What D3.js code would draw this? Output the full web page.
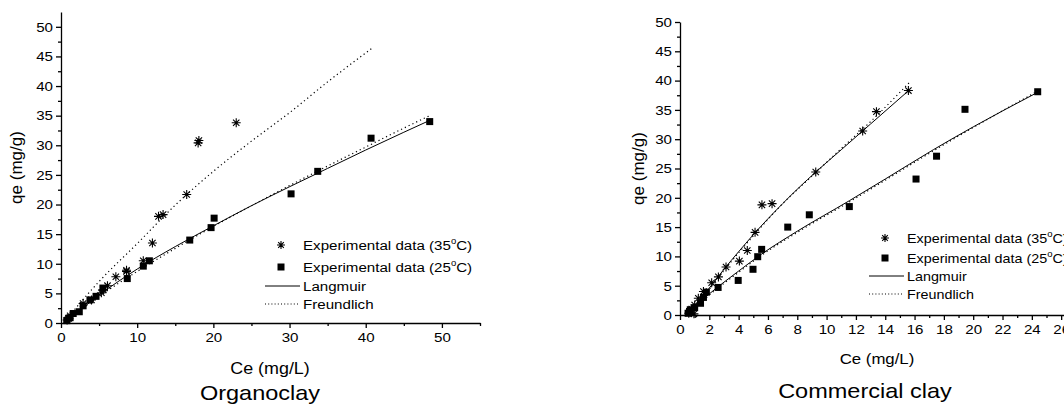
<!DOCTYPE html>
<html>
<head>
<meta charset="utf-8">
<script src="https://cdn.jsdelivr.net/npm/d3@7"></script>
<style>
  body { margin: 0; background: #fff; }
  svg { font-family: "Liberation Sans", Arial, sans-serif; }
  .axis path, .axis line { stroke: #000; stroke-width: 1.3; }
  .axis text { font-size: 13.5px; fill: #000; }
</style>
</head>
<body>
<svg width="1064" height="410"></svg>
<script>
// ---- Organoclay ----
const orgCe35 = [0.8, 1.2, 2.9, 4.0, 5.3, 5.55, 6.1, 7.2, 8.6, 8.6, 10.8, 12.0, 12.8, 13.4, 16.5, 18.0, 18.1, 23.0];
const orgQe35 = [0.5, 1.2, 3.3, 3.9, 5.1, 5.6, 6.3, 7.8, 8.7, 8.9, 10.5, 13.5, 18.0, 18.3, 21.7, 30.4, 30.8, 33.8];
const orgCe25 = [0.75, 1.0, 1.2, 1.6, 2.4, 2.9, 3.8, 4.6, 5.5, 8.7, 10.8, 11.6, 16.9, 19.7, 20.1, 30.2, 33.7, 40.7, 48.4];
const orgQe25 = [0.4, 0.8, 0.9, 1.6, 1.9, 2.9, 3.9, 4.5, 5.9, 7.5, 9.6, 10.5, 14.0, 16.1, 17.7, 21.8, 25.6, 31.2, 34.0];
const orgLangCe25 = [0.7, 5, 10, 15, 20, 25, 30, 35, 40, 45, 48.4];
const orgLangQe25 = [0.2, 4.7, 9.1, 12.9, 16.4, 19.8, 23.0, 26.1, 29.2, 32.2, 34.2];
const orgFreuCe25 = [0.7, 5, 10, 15, 20, 25, 30, 35, 40, 45, 48.4];
const orgFreuQe25 = [0.3, 4.5, 8.7, 12.6, 16.3, 19.8, 23.2, 26.5, 29.7, 32.9, 35.0];
const orgFreuCe35 = [0.75, 2, 5, 10, 15, 20, 25, 30, 35, 40.85];
const orgFreuQe35 = [0.6, 2.6, 7.0, 13.4, 19.9, 25.6, 30.7, 35.5, 40.7, 46.4];

// ---- Commercial clay ----
const comCe35 = [0.6, 0.8, 0.95, 1.0, 1.25, 1.6, 2.16, 2.62, 3.14, 4.05, 4.59, 5.12, 5.59, 6.28, 9.26, 12.46, 13.4, 15.58];
const comQe35 = [0.3, 1.0, 0.2, 1.7, 2.85, 4.0, 5.5, 6.5, 8.2, 9.2, 11.0, 14.1, 18.8, 19.0, 24.4, 31.4, 34.7, 38.3];
const comCe25 = [0.55, 0.65, 0.7, 1.0, 1.4, 1.6, 1.8, 2.6, 3.97, 4.98, 5.3, 5.57, 7.35, 8.82, 11.55, 16.1, 17.5, 19.44, 24.4];
const comQe25 = [0.3, 0.6, 0.9, 1.25, 2.0, 3.0, 3.9, 4.7, 5.9, 7.8, 9.95, 11.2, 15.0, 17.1, 18.5, 23.2, 27.1, 35.1, 38.1];
const comLangCe35 = [0.55, 1, 2, 3, 4, 5, 7, 9.26, 11, 13, 15.6];
const comLangQe35 = [0, 1.5, 4.6, 7.8, 10.8, 13.7, 19.0, 24.4, 28.2, 32.6, 38.3];
const comFreuCe35 = [0.6, 1, 2, 3, 5, 7, 9.26, 11, 13, 15.7];
const comFreuQe35 = [0, 1.2, 4.4, 7.6, 13.5, 19.0, 24.3, 28.4, 33.0, 39.8];
const comLangCe25 = [0.55, 1, 2, 3, 4, 5.57, 8, 11.55, 14, 17.28, 20, 24.4];
const comLangQe25 = [0.1, 1.3, 3.6, 5.6, 7.5, 10.4, 14.3, 19.5, 23.2, 28.2, 32.1, 38.0];
const comFreuCe25 = [0.55, 1, 2, 3, 4, 5.57, 8, 11.55, 14, 17.28, 20, 24.4];
const comFreuQe25 = [0, 1.1, 3.4, 5.4, 7.3, 10.2, 14.1, 19.3, 23.0, 28.0, 32.0, 38.2];

const legendLabels = ["Experimental data (35", "Experimental data (25", "Langmuir", "Freundlich"];

const svg = d3.select("svg");
const zip = (a, b) => a.map((v, i) => [v, b[i]]);
const K = 1.12; // the source picture is a bit wider than tall

// widen text horizontally around its anchor x
function stretch(sel) {
  sel.each(function() {
    const t = d3.select(this);
    const x = +t.attr("x") || 0;
    t.attr("transform", `translate(${x * (1 - K)},0) scale(${K},1)`);
  });
}

function starPath(r) {
  const d = r * Math.SQRT1_2;
  return `M0,${-r}V${r}M${-r},0H${r}M${-d},${-d}L${d},${d}M${-d},${d}L${d},${-d}`;
}

function drawPanel(p) {
  const g = svg.append("g");
  const x = d3.scaleLinear().domain(p.xDomain).range(p.xRange);
  const y = d3.scaleLinear().domain(p.yDomain).range(p.yRange);

  // minor ticks
  g.append("g").attr("class", "axis")
    .attr("transform", `translate(0,${p.yRange[0]})`)
    .call(d3.axisBottom(x).tickValues(p.xMinor).tickSize(3).tickFormat(""))
    .select(".domain").remove();
  g.append("g").attr("class", "axis")
    .attr("transform", `translate(${p.xRange[0]},0)`)
    .call(d3.axisLeft(y).tickValues(d3.range(2.5, p.yDomain[1], 5)).tickSize(3).tickFormat(""))
    .select(".domain").remove();

  const xa = g.append("g").attr("class", "axis")
    .attr("transform", `translate(0,${p.yRange[0]})`)
    .call(d3.axisBottom(x).tickValues(p.xMajor).tickSize(5).tickSizeOuter(0).tickPadding(4).tickFormat(d3.format("d")));
  const ya = g.append("g").attr("class", "axis")
    .attr("transform", `translate(${p.xRange[0]},0)`)
    .call(d3.axisLeft(y).tickValues(d3.range(0, 51, 5)).tickSize(5).tickSizeOuter(0).tickPadding(3).tickFormat(d3.format("d")));
  stretch(xa.selectAll("text"));
  stretch(ya.selectAll("text"));

  const line = d3.line().x(d => x(d[0])).y(d => y(d[1])).curve(d3.curveMonotoneX);
  p.lines.forEach(l => {
    g.append("path").datum(l.pts).attr("d", line)
      .attr("fill", "none").attr("stroke", "#000")
      .attr("stroke-width", l.dot ? 1.2 : 1)
      .attr("stroke-dasharray", l.dot ? "1.2,3" : null);
  });

  g.selectAll(".sq").data(p.squares).join("rect")
    .attr("x", d => x(d[0]) - 3.5).attr("y", d => y(d[1]) - 3.5)
    .attr("width", 7).attr("height", 7).attr("fill", "#000");
  g.selectAll(".st").data(p.stars).join("path")
    .attr("transform", d => `translate(${x(d[0])},${y(d[1])})`)
    .attr("d", starPath(4.5)).attr("stroke", "#000").attr("stroke-width", 1.1).attr("fill", "none");

  // axis titles
  g.append("text").attr("transform", `translate(${p.yLabelX},${(p.yRange[0] + p.yRange[1]) / 2}) rotate(-90)`)
    .attr("text-anchor", "middle").attr("font-size", 17).text("qe (mg/g)");
  g.append("text").attr("x", p.xLabel[0]).attr("y", p.xLabel[1])
    .attr("text-anchor", "middle").attr("font-size", p.labelSize).text("Ce (mg/L)")
    .call(stretch);
  g.append("text").attr("x", p.title[0]).attr("y", p.title[1])
    .attr("text-anchor", "middle").attr("font-size", 21).text(p.titleText)
    .call(stretch);

  // legend
  const [lx, ly, gap] = p.legend;
  const lg = g.append("g").attr("font-size", p.legendSize);
  lg.append("path").attr("transform", `translate(${lx - 22},${ly})`).attr("d", starPath(4))
    .attr("stroke", "#000").attr("stroke-width", 1.1);
  lg.append("rect").attr("x", lx - 25.5).attr("y", ly + gap[0] - 3.5).attr("width", 7).attr("height", 7);
  lg.append("line").attr("x1", lx - 38).attr("x2", lx - 3).attr("y1", ly + gap[1]).attr("y2", ly + gap[1]).attr("stroke", "#000");
  lg.append("line").attr("x1", lx - 38).attr("x2", lx - 3).attr("y1", ly + gap[2]).attr("y2", ly + gap[2])
    .attr("stroke", "#000").attr("stroke-width", 1.1).attr("stroke-dasharray", "1,2.2");
  [0, gap[0], gap[1], gap[2]].forEach((dy, i) => {
    const t = lg.append("text").attr("x", lx).attr("y", ly + dy + 5).text(legendLabels[i]);
    if (i < 2) {
      t.append("tspan").attr("font-size", 8.5).attr("dy", -6).text("o");
      t.append("tspan").attr("dy", 6).text("C)");
    }
    stretch(t);
  });
}

drawPanel({
  xDomain: [0, 55], xRange: [61, 480],
  yDomain: [0, 52.5], yRange: [323, 12],
  xMajor: d3.range(0, 51, 10), xMinor: d3.range(5, 56, 10),
  yLabelX: 22, xLabel: [270, 374], title: [260, 400], titleText: "Organoclay",
  labelSize: 16, legendSize: 13.5,
  legend: [303, 245, [22, 41, 59]],
  squares: zip(orgCe25, orgQe25), stars: zip(orgCe35, orgQe35),
  lines: [
    { pts: zip(orgLangCe25, orgLangQe25), dot: false },
    { pts: zip(orgFreuCe25, orgFreuQe25), dot: true },
    { pts: zip(orgFreuCe35, orgFreuQe35), dot: true }
  ]
});

drawPanel({
  xDomain: [0, 26.5], xRange: [680, 680 + 26.5 * 14.66],
  yDomain: [0, 50], yRange: [315, 22],
  xMajor: d3.range(0, 27, 2), xMinor: d3.range(1, 27, 2),
  yLabelX: 644, xLabel: [877, 364], title: [865, 398], titleText: "Commercial clay",
  labelSize: 15, legendSize: 12.8,
  legend: [907, 238, [20, 38, 56]],
  squares: zip(comCe25, comQe25), stars: zip(comCe35, comQe35),
  lines: [
    { pts: zip(comLangCe35, comLangQe35), dot: false },
    { pts: zip(comFreuCe35, comFreuQe35), dot: true },
    { pts: zip(comLangCe25, comLangQe25), dot: false },
    { pts: zip(comFreuCe25, comFreuQe25), dot: true }
  ]
});
</script>
</body>
</html>
